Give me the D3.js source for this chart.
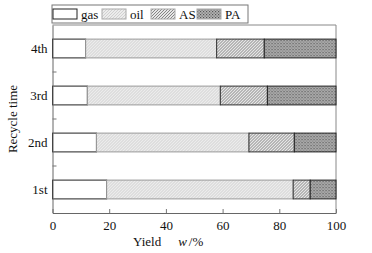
<!DOCTYPE html>
<html>
<head>
<meta charset="utf-8">
<script src="https://cdn.jsdelivr.net/npm/d3@7"></script>
<style>
  body { margin: 0; background: #fff; }
  svg { display: block; font-family: 'Liberation Serif', 'Times New Roman', serif; }
</style>
</head>
<body>
<svg id="chart" width="372" height="253"></svg>
<script>
// data (yield w/% per recycle run)
const categories = ['1st', '2nd', '3rd', '4th'];
const seriesNames = ['gas', 'oil', 'AS', 'PA'];
const gas = [19.1, 15.5, 12.3, 11.7];
const oil = [65.8, 53.8, 46.9, 46.2];
const AS  = [6.0, 16.0, 16.6, 16.8];
const PA  = [9.1, 14.7, 24.2, 25.3];
const xTicks = [0, 20, 40, 60, 80, 100];

const margins = { left: 52.5, right: 36, top: 25, bottom: 40 };
const svg = d3.select('#chart');
const width = 372, height = 253;
const innerWidth = width - margins.left - margins.right;
const innerHeight = height - margins.top - margins.bottom;

// ---- patterns
const defs = svg.append('defs');
const pOil = defs.append('pattern').attr('id', 'p-oil')
  .attr('patternUnits', 'userSpaceOnUse').attr('width', 3).attr('height', 3);
pOil.append('rect').attr('width', 3).attr('height', 3).attr('fill', '#ececec');
pOil.append('path').attr('d', 'M0,3 L3,0').attr('stroke', '#c4c4c4').attr('stroke-width', 0.7);

const pAS = defs.append('pattern').attr('id', 'p-as')
  .attr('patternUnits', 'userSpaceOnUse').attr('width', 3).attr('height', 3);
pAS.append('rect').attr('width', 3).attr('height', 3).attr('fill', '#e6e6e6');
pAS.append('path').attr('d', 'M-1,1 L1,-1 M0,3 L3,0 M2,4 L4,2').attr('stroke', '#7a7a7a').attr('stroke-width', 0.9);

const pPA = defs.append('pattern').attr('id', 'p-pa')
  .attr('patternUnits', 'userSpaceOnUse').attr('width', 3).attr('height', 3);
pPA.append('rect').attr('width', 3).attr('height', 3).attr('fill', '#b4b4b4');
pPA.append('rect').attr('x', 0).attr('y', 0).attr('width', 1.2).attr('height', 1.2).attr('fill', '#555');
pPA.append('rect').attr('x', 1.5).attr('y', 1.5).attr('width', 1.2).attr('height', 1.2).attr('fill', '#666');

const fills = { gas: '#fff', oil: 'url(#p-oil)', AS: 'url(#p-as)', PA: 'url(#p-pa)' };
const strokes = { gas: '#222', oil: '#999', AS: '#333', PA: '#222' };

const table = categories.map((c, i) => ({ cat: c, gas: gas[i], oil: oil[i], AS: AS[i], PA: PA[i] }));
const stacked = d3.stack().keys(seriesNames)(table);

const mapX = d3.scaleLinear().domain([0, 100]).range([0, innerWidth]);
const mapY = d3.scaleBand().domain(categories.slice().reverse()).range([0, innerHeight]).paddingInner(0.6).paddingOuter(0.3);
const bandY = d3.scaleBand().domain(categories.slice().reverse()).range([0, innerHeight]);

const g = svg.append('g').attr('transform', `translate(${margins.left}, ${margins.top})`);

// frame (top and right)
g.append('path')
  .attr('d', `M0,0 H${innerWidth} V${innerHeight}`)
  .attr('fill', 'none').attr('stroke', '#888').attr('stroke-width', 1);

//---- bars
g.append('g').selectAll('g').data(stacked).join('g')
  .attr('fill', d => fills[d.key])
  .attr('stroke', d => strokes[d.key])
  .attr('stroke-width', 1)
  .selectAll('rect').data(d => d).join('rect')
  .attr('x', d => mapX(d[0]))
  .attr('y', d => mapY(d.data.cat))
  .attr('width', d => mapX(d[1]) - mapX(d[0]))
  .attr('height', mapY.bandwidth());

// x axis, ticks pointing inward
const xAxis = d3.axisBottom(mapX).tickValues(xTicks).tickSizeInner(-4).tickSizeOuter(0).tickPadding(8);
const gx = g.append('g').attr('transform', `translate(0, ${innerHeight})`).call(xAxis);
gx.select('.domain').attr('stroke', '#666');
gx.selectAll('.tick line').attr('stroke', '#777');
gx.selectAll('text').attr('font-size', 13).attr('fill', '#111').attr('font-family', 'Liberation Serif');

// y axis: labels at band centres, ticks at band boundaries
const yAxis = d3.axisLeft(mapY).tickSize(0).tickPadding(5);
const gy = g.append('g').call(yAxis);
gy.select('.domain').attr('stroke', '#666');
gy.selectAll('text').attr('font-size', 13).attr('fill', '#111').attr('font-family', 'Liberation Serif');
g.append('g').selectAll('line').data(categories.slice(1)).join('line')
  .attr('x1', 0).attr('x2', 4)
  .attr('y1', d => bandY(d) + bandY.bandwidth())
  .attr('y2', d => bandY(d) + bandY.bandwidth())
  .attr('stroke', '#777');

// axis titles
svg.append('text')
  .attr('transform', `translate(17, ${margins.top + innerHeight / 2}) rotate(-90)`)
  .attr('text-anchor', 'middle').attr('font-size', 13).attr('fill', '#111')
  .text('Recycle time');
const xt = svg.append('text')
  .attr('x', 133).attr('y', 246).attr('font-size', 13).attr('fill', '#111');
xt.append('tspan').text('Yield');
xt.append('tspan').attr('dx', 17).attr('font-style', 'italic').text('w');
xt.append('tspan').attr('dx', 2).text('/%');

// legend
const lg = svg.append('g').attr('transform', 'translate(52, 5)');
lg.append('rect').attr('width', 196).attr('height', 18).attr('fill', '#fff').attr('stroke', '#777');
const legX = [1, 50, 99, 145];
const item = lg.selectAll('g.item').data(seriesNames).join('g')
  .attr('class', 'item')
  .attr('transform', (d, i) => `translate(${legX[i]}, 0)`);
item.append('rect').attr('y', 4).attr('width', 24).attr('height', 10)
  .attr('fill', d => fills[d]).attr('stroke', d => d === 'gas' ? '#222' : '#aaa');
item.append('text').attr('x', 28).attr('y', 14).attr('font-size', 13).attr('fill', '#111').text(d => d);
</script>
</body>
</html>
